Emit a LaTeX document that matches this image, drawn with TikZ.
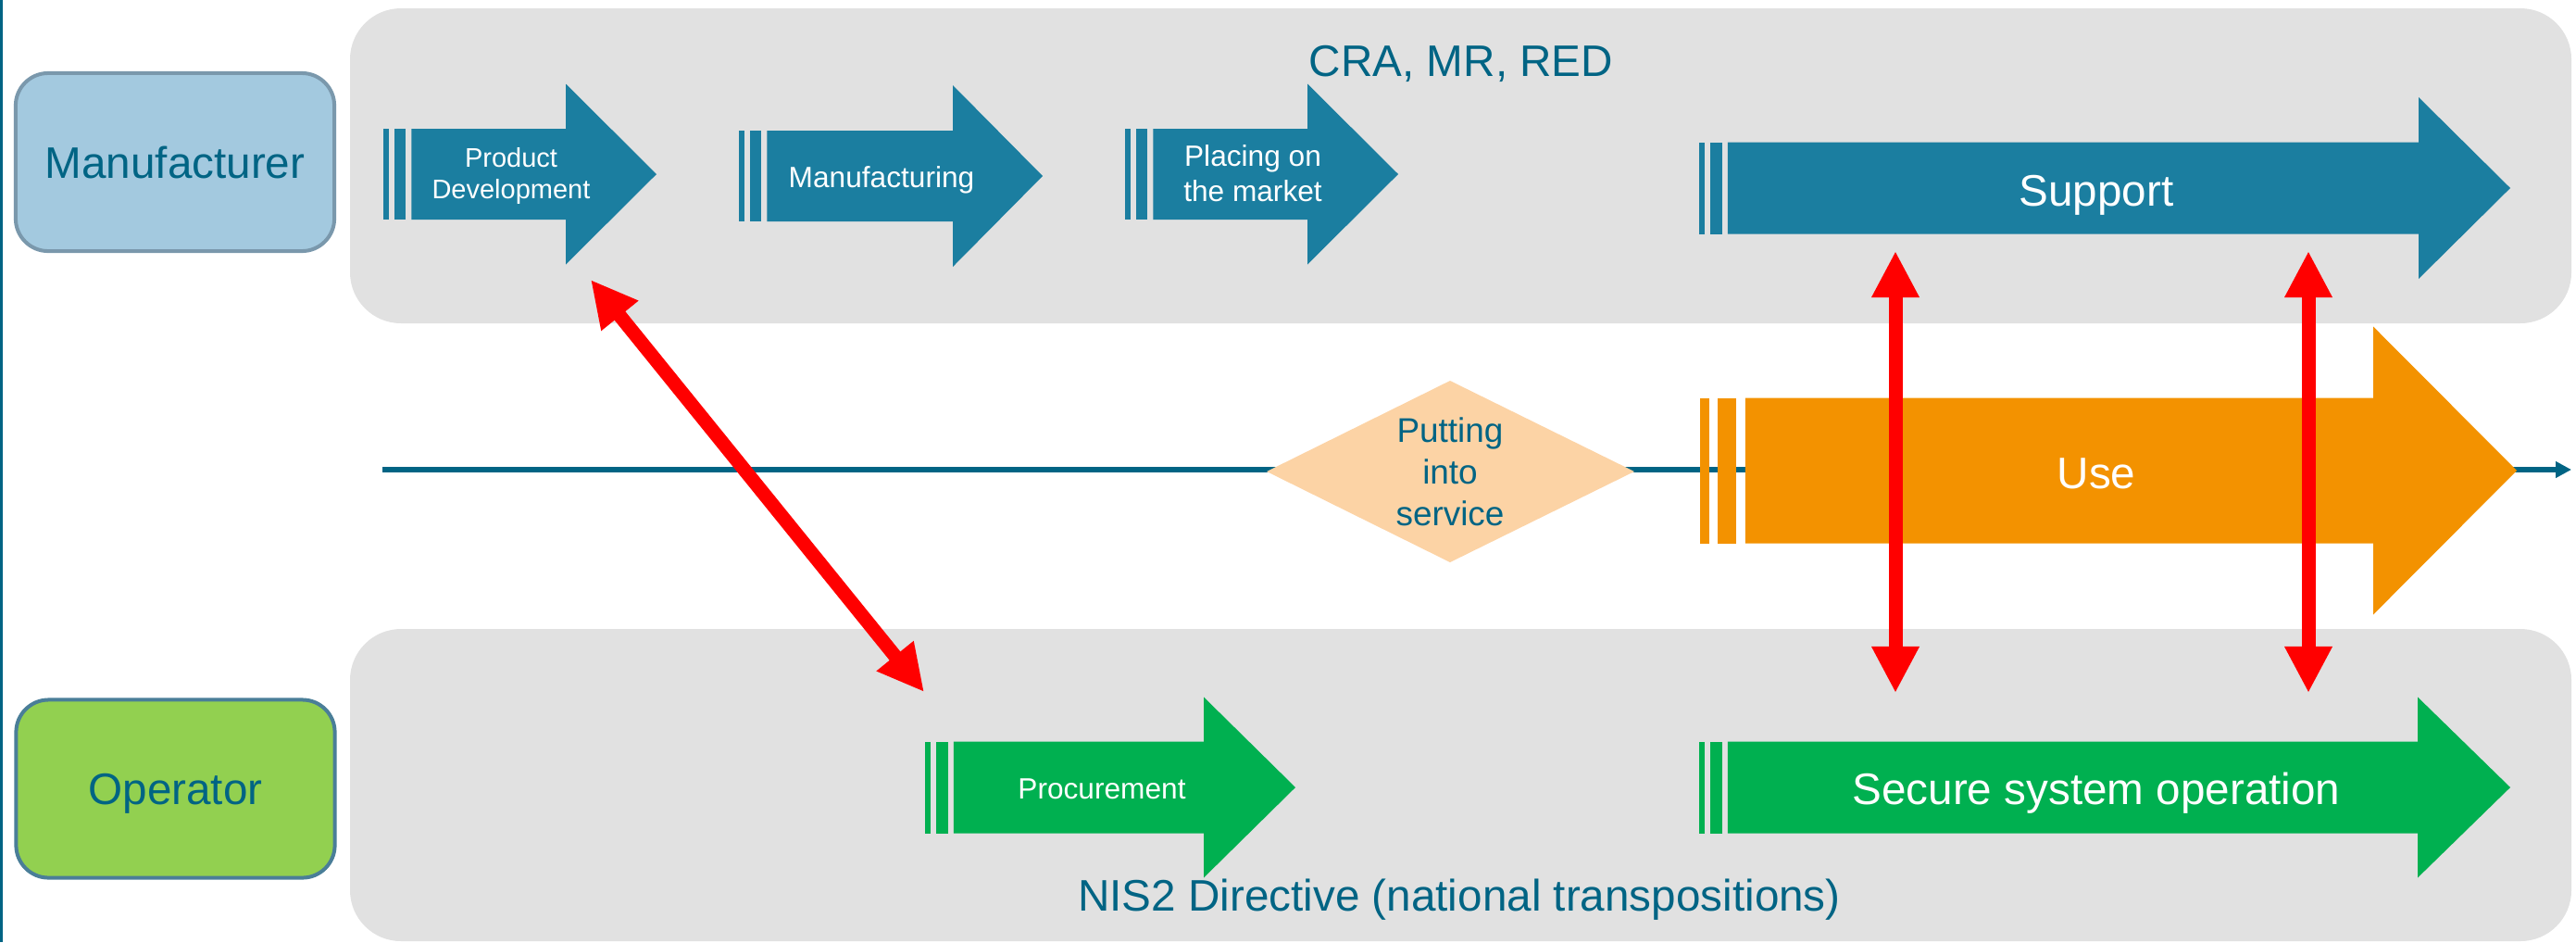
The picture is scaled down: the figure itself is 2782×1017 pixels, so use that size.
\documentclass[tikz,border=0pt]{standalone}
\usepackage{fontspec}
\setmainfont{Liberation Sans}
\usetikzlibrary{arrows.meta}

\definecolor{tealtext}{RGB}{0,100,132}
\definecolor{stepblue}{RGB}{27,126,160}
\definecolor{panelgrey}{RGB}{225,225,225}
\definecolor{manufill}{RGB}{163,201,223}
\definecolor{manuline}{RGB}{122,152,172}
\definecolor{opfill}{RGB}{146,208,80}
\definecolor{opline}{RGB}{74,126,152}
\definecolor{stepgreen}{RGB}{0,176,80}
\definecolor{useorange}{RGB}{243,146,0}
\definecolor{peach}{RGB}{252,211,165}
\definecolor{linkred}{RGB}{255,0,0}

% Striped block arrow: two thin bars followed by a body with a triangular head.
% #1 colour, #2 left x, #3 centre y, #4 body half height,
% #5 head start x, #6 head half height, #7 tip x
\newcommand\stripedarrow[7]{%
  \fill[#1] ({#2},{#3-#4}) rectangle ({#2+0.124*#4},{#3+#4});
  \fill[#1] ({#2+0.248*#4},{#3-#4}) rectangle ({#2+0.498*#4},{#3+#4});
  \fill[#1] ({#2+0.622*#4},{#3-#4}) -- ({#5},{#3-#4}) -- ({#5},{#3-#6}) -- ({#7},{#3})
     -- ({#5},{#3+#6}) -- ({#5},{#3+#4}) -- ({#2+0.622*#4},{#3+#4}) -- cycle;
}

\tikzset{
  bigfont/.style={font=\fontsize{13.55}{16.3}\selectfont},
  actor/.style={draw, line width=0.04cm, rounded corners=0.35cm,
    minimum width=3.44cm, minimum height=1.92cm, inner sep=0pt,
    text=tealtext, bigfont, text depth=0pt},
  lawlabel/.style={text=tealtext, bigfont, anchor=base, inner sep=0pt},
  biglabel/.style={text=white, bigfont, anchor=base, inner sep=0pt},
  steplabel/.style={text=white, align=center, inner sep=0pt,
    font=\fontsize{9}{10.8}\selectfont},
  link/.style={draw=linkred, line width=0.15cm,
    {Triangle[length=0.5cm,width=0.48cm]}-{Triangle[length=0.5cm,width=0.48cm]}},
}

\begin{document}
\begin{tikzpicture}[x=0.01cm, y=-0.01cm]
\useasboundingbox (0,0) rectangle (2782,1017);

% left edge rule
\fill[tealtext] (0,0) rectangle (3,1017);

% background panels
\fill[panelgrey, rounded corners=0.55cm] (378,9) rectangle (2777,349);
\fill[panelgrey, rounded corners=0.55cm] (378,679) rectangle (2777,1016);

% actors
\node[actor, draw=manuline, fill=manufill] (manufacturer) at (189,175) {Manufacturer};
\node[actor, draw=opline, fill=opfill] (operator) at (189.5,851.5) {Operator};

% regulatory frames
\node[lawlabel] (cra) at (1578,82) {CRA, MR, RED};
\node[lawlabel] (nis) at (1576,983) {NIS2 Directive (national transpositions)};

% time line
\coordinate (tstart) at (413,507);
\coordinate (tend) at (2777,507);
\draw[tealtext, line width=0.06cm, -{Triangle[length=0.17cm,width=0.17cm]}] (tstart) -- (tend);

% putting into service milestone
\fill[peach] (1368,509) -- (1566,411) -- (1765,509) -- (1566,607) -- cycle;
\node[text=tealtext, align=center, inner sep=0pt, font=\fontsize{10.5}{12.8}\selectfont]
  (service) at (1566,509) {Putting\\into\\service};

% manufacturer phases
\stripedarrow{stepblue}{414}{188}{49}{611}{97.5}{709}
\stripedarrow{stepblue}{798}{190}{49}{1029}{98}{1126}
\stripedarrow{stepblue}{1215}{188}{49}{1412}{97.5}{1510}
\stripedarrow{stepblue}{1835}{203}{49.5}{2612}{98}{2711}
\node[steplabel, font=\fontsize{8.25}{9.7}\selectfont] (devel) at (552,190) {Product\\Development};
\node[steplabel, anchor=base] (manuf) at (952,202) {Manufacturing};
\node[steplabel] (placing) at (1353,187.5) {Placing on\\the market};
\node[biglabel] (support) at (2264,222) {Support};

% use phase
\stripedarrow{useorange}{1836}{508}{78.5}{2563}{155.5}{2718}
\node[biglabel] (use) at (2264,527) {Use};

% operator phases
\stripedarrow{stepgreen}{999}{850}{49.5}{1300}{97.5}{1399}
\stripedarrow{stepgreen}{1835}{850}{49.5}{2611}{97.5}{2711}
\node[steplabel, anchor=base] (procure) at (1190,862) {Procurement};
\node[biglabel] (secure) at (2264,868) {Secure system operation};

% links between manufacturer and operator
\coordinate (develend) at (638,302);
\coordinate (procend) at (998,747);
\coordinate (supportA) at (2047,271);
\coordinate (operA) at (2047,748);
\coordinate (supportB) at (2493,271);
\coordinate (operB) at (2493,748);
\draw[link] (develend) -- (procend);
\draw[link] (supportA) -- (operA);
\draw[link] (supportB) -- (operB);
\end{tikzpicture}
\end{document}
